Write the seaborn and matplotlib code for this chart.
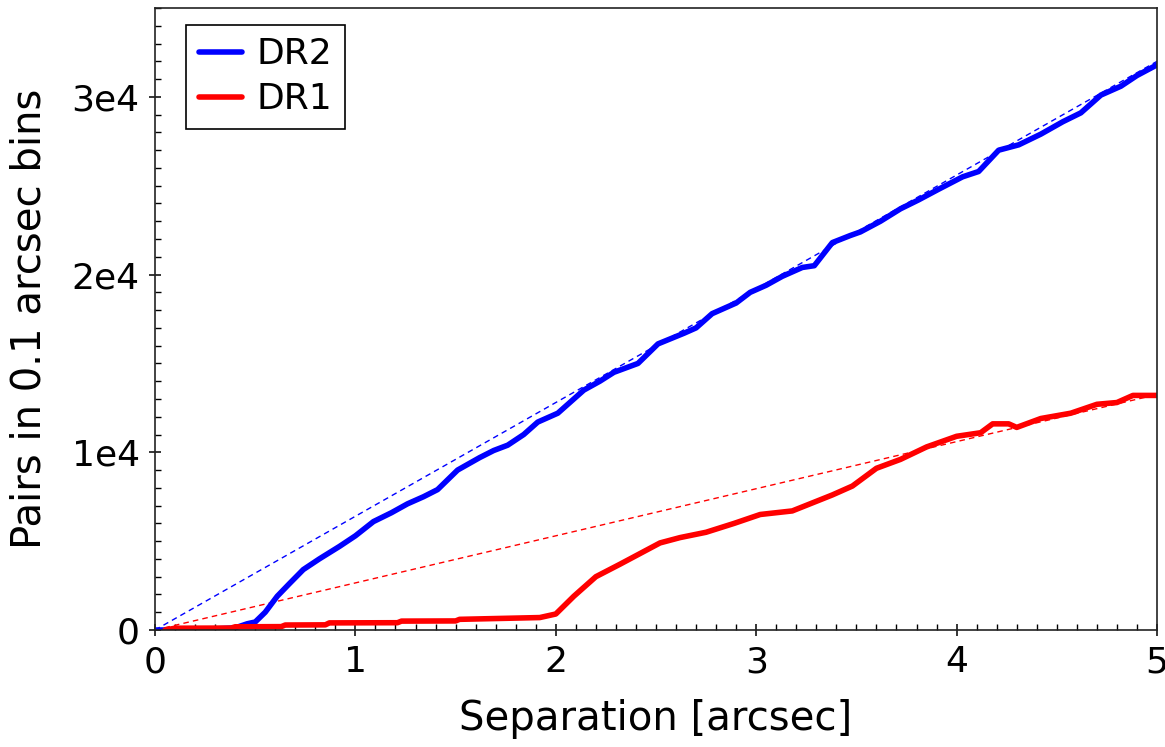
import matplotlib
matplotlib.use("Agg")
import matplotlib.pyplot as plt
from matplotlib.ticker import MultipleLocator, FuncFormatter
import numpy as np
import pandas as pd
import seaborn as sns

# Pair counts per 0.1 arcsec separation bin
dr2_sep = [0.0, 0.1, 0.2, 0.3, 0.4, 0.46, 0.5, 0.55, 0.61, 0.67, 0.74, 0.82, 0.92,
           1.0, 1.09, 1.18, 1.26, 1.34, 1.41, 1.51, 1.62, 1.69, 1.76, 1.84, 1.91,
           2.01, 2.14, 2.22, 2.29, 2.41, 2.51, 2.64, 2.70, 2.78, 2.90, 2.97, 3.05,
           3.13, 3.23, 3.29, 3.38, 3.47, 3.52, 3.62, 3.72, 3.81, 3.91, 4.03, 4.11,
           4.21, 4.31, 4.42, 4.53, 4.62, 4.72, 4.82, 4.90, 5.0]
dr2_pairs = [0, 0, 30, 60, 120, 350, 450, 1000, 1900, 2600, 3400, 4000, 4700,
             5300, 6100, 6600, 7100, 7500, 7900, 9000, 9700, 10100, 10400, 11000, 11700,
             12200, 13500, 14000, 14500, 15000, 16100, 16700, 17000, 17800, 18400, 19000, 19400,
             19900, 20400, 20500, 21800, 22200, 22400, 23000, 23700, 24200, 24800, 25500, 25800,
             27000, 27300, 27900, 28600, 29100, 30100, 30600, 31200, 31800]

dr1_sep = [0.05, 0.1, 0.38, 0.40, 0.63, 0.65, 0.85, 0.87, 1.21, 1.23, 1.50, 1.52,
           1.92, 2.0, 2.09, 2.2, 2.32, 2.42, 2.52, 2.62, 2.75, 2.89, 3.02, 3.18,
           3.38, 3.48, 3.60, 3.72, 3.85, 4.0, 4.12, 4.18, 4.26, 4.30, 4.42, 4.57,
           4.70, 4.80, 4.88, 5.0]
dr1_pairs = [0, 100, 110, 180, 190, 280, 290, 400, 410, 500, 510, 600,
             700, 900, 1900, 3000, 3700, 4300, 4900, 5200, 5500, 6000, 6500, 6700,
             7600, 8100, 9100, 9600, 10300, 10900, 11100, 11600, 11600, 11400, 11900, 12200,
             12700, 12800, 13200, 13200]

# Expected counts for random pairs (linear in separation)
model_sep = [0.0, 5.0]
dr2_model = [0, 32000]
dr1_model = [0, 13250]

sns.set_style("ticks")
plt.rcParams["font.family"] = ["DejaVu Sans"]
plt.rcParams["text.color"] = "black"
plt.rcParams["axes.labelcolor"] = "black"

fig = plt.figure(figsize=(11.65, 7.47), dpi=100)
ax = fig.add_axes([155 / 1165, 1 - 630 / 747, 1002 / 1165, 622 / 747])

blue = "#0000ff"
red = "#ff0000"

models = pd.DataFrame({"sep": model_sep * 2,
                       "pairs": dr2_model + dr1_model,
                       "release": ["DR2"] * 2 + ["DR1"] * 2})
sns.lineplot(data=models, x="sep", y="pairs", hue="release",
             palette={"DR2": blue, "DR1": red}, linewidth=1.0,
             legend=False, ax=ax, dashes=False)
for ln in ax.lines:
    ln.set_dashes([4, 3])

counts = pd.DataFrame({"sep": dr2_sep + dr1_sep,
                       "pairs": dr2_pairs + dr1_pairs,
                       "release": ["DR2"] * len(dr2_sep) + ["DR1"] * len(dr1_sep)})
sns.lineplot(data=counts, x="sep", y="pairs", hue="release",
             hue_order=["DR2", "DR1"],
             palette={"DR2": blue, "DR1": red}, linewidth=4.0,
             ax=ax, estimator=None, sort=False)

ax.set_xlim(0, 5)
ax.set_ylim(0, 35000)
ax.xaxis.set_major_locator(MultipleLocator(1))
ax.xaxis.set_minor_locator(MultipleLocator(0.1))
ax.yaxis.set_major_locator(MultipleLocator(10000))
ax.yaxis.set_minor_locator(MultipleLocator(1000))
ax.yaxis.set_major_formatter(FuncFormatter(lambda v, p: "0" if v == 0 else f"{int(v / 10000)}e4"))
ax.tick_params(which="major", direction="inout", length=8, width=1.1,
               labelsize=26, color="black", labelcolor="black", pad=7)
ax.tick_params(which="minor", direction="in", length=4, width=1.0, color="black")
for s in ax.spines.values():
    s.set_color("#222222")
    s.set_linewidth(1.2)

ax.set_xlabel("Separation [arcsec]", fontsize=29, labelpad=14)
ax.set_ylabel("Pairs in 0.1 arcsec bins", fontsize=29, labelpad=16)

leg = ax.legend(loc="upper left", bbox_to_anchor=(0.031, 0.973), borderaxespad=0,
                fontsize=26, fancybox=False, framealpha=1, edgecolor="black",
                handlelength=1.2, handletextpad=0.4, borderpad=0.35, labelspacing=0.3)
leg.get_frame().set_linewidth(1.2)
for h in leg.get_lines():
    h.set_linewidth(4.0)

fig.savefig("out.png", dpi=100, facecolor="white")
